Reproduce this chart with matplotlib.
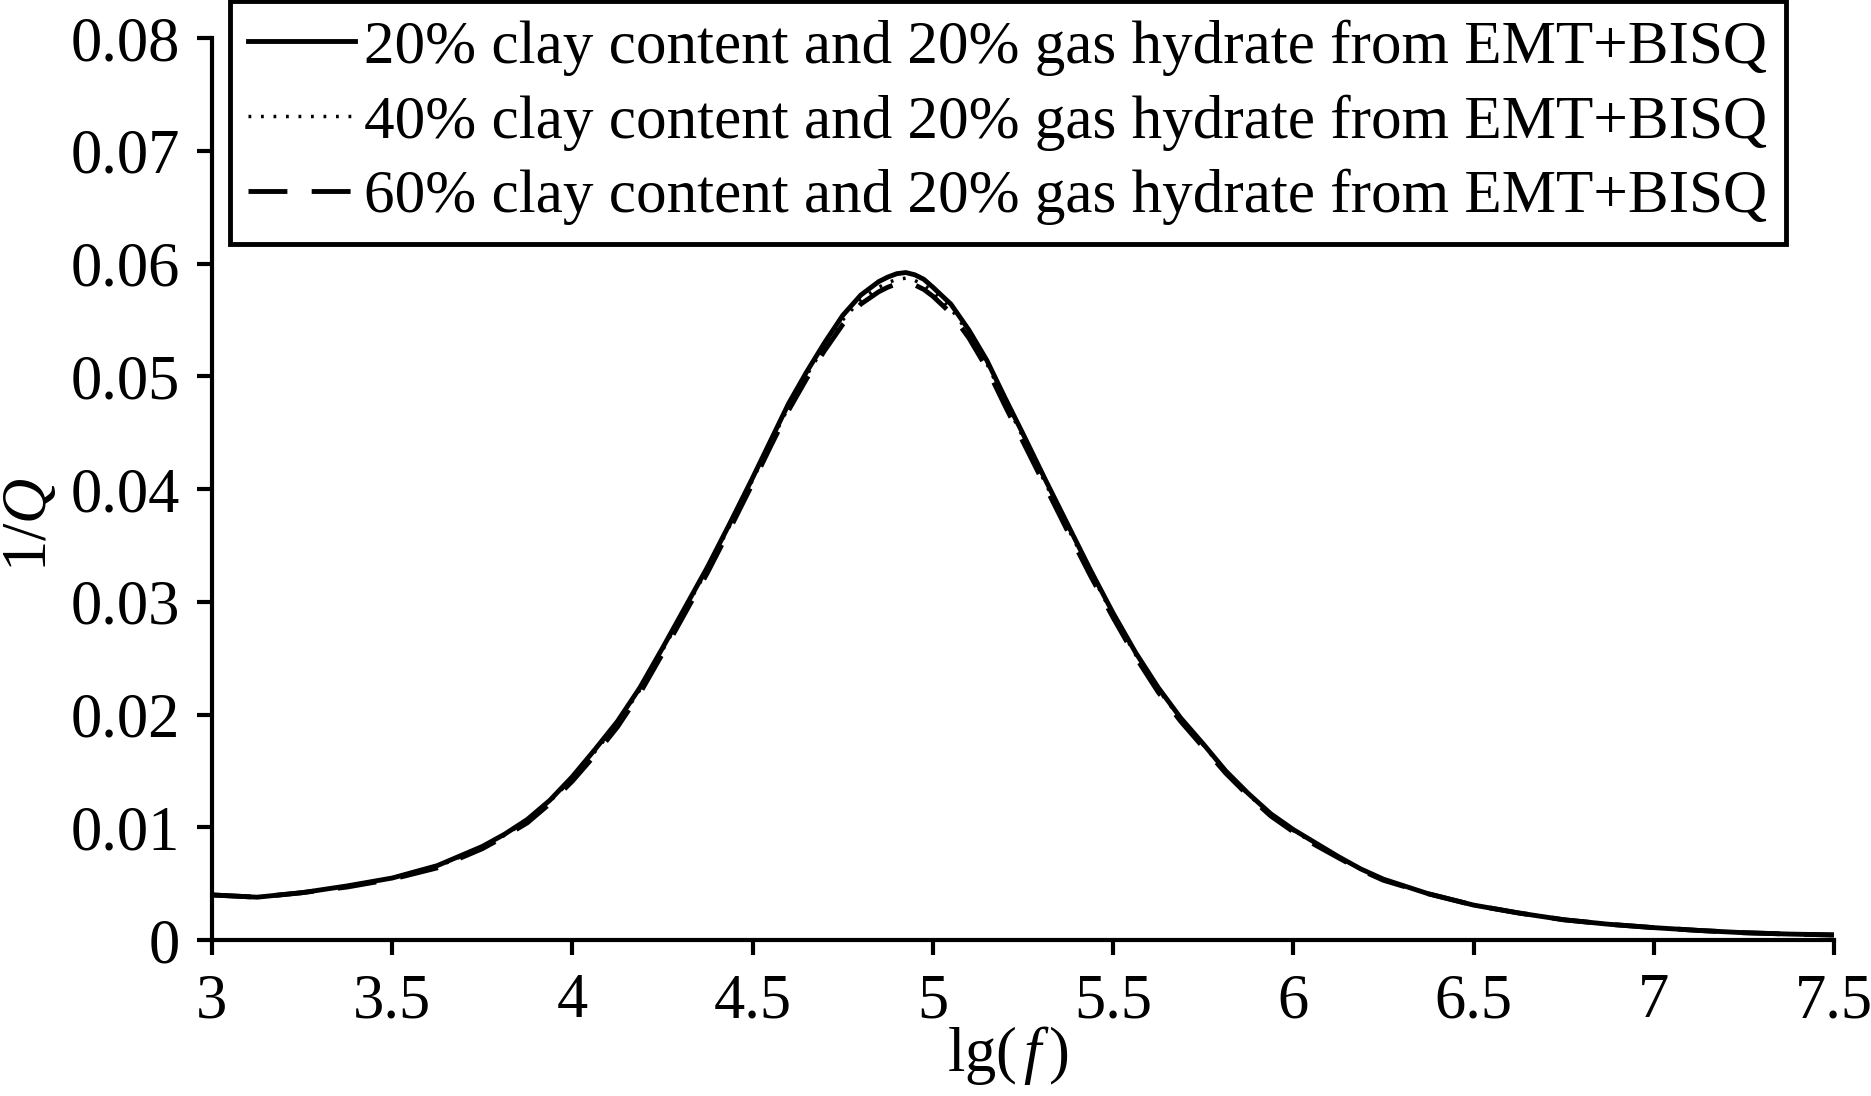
import matplotlib
matplotlib.use('Agg')
import matplotlib.pyplot as plt

plt.rcParams['font.family'] = ['Liberation Serif', 'DejaVu Serif']
plt.rcParams['mathtext.fontset'] = 'custom'
plt.rcParams['mathtext.rm'] = 'Liberation Serif'
plt.rcParams['mathtext.it'] = 'Liberation Serif:italic'

# lg(f) sample points
lgf = [3.0, 3.125, 3.25, 3.375, 3.5, 3.625, 3.75,
       3.8125, 3.875, 3.9375, 4.0, 4.0625, 4.125, 4.1875, 4.25, 4.3125, 4.375, 4.4375, 4.5,
       4.55, 4.6, 4.65, 4.7, 4.75, 4.8, 4.85, 4.875, 4.9, 4.925, 4.95, 4.975, 5.0,
       5.05, 5.1, 5.15, 5.2, 5.25,
       5.3125, 5.375, 5.4375, 5.5, 5.5625, 5.625, 5.6875, 5.75, 5.8125, 5.875, 5.9375,
       6.0, 6.0625, 6.125, 6.1875, 6.25,
       6.375, 6.5, 6.625, 6.75, 6.875, 7.0, 7.125, 7.25, 7.375, 7.5]

# 1/Q for 20% clay
q20 = [0.0040, 0.0038, 0.0042, 0.0048, 0.0055, 0.0066, 0.0083,
       0.0094, 0.0107, 0.0124, 0.0145, 0.0169, 0.0194, 0.0224, 0.0259, 0.0295, 0.0331, 0.0370, 0.0410,
       0.0443, 0.0476, 0.0504, 0.0530, 0.0554, 0.0572, 0.0584, 0.0588, 0.0591, 0.0592, 0.0590, 0.0586, 0.0579,
       0.0564, 0.0541, 0.0514, 0.0481, 0.0449,
       0.0408, 0.0368, 0.0328, 0.0290, 0.0255, 0.0224, 0.0197, 0.0174, 0.0150, 0.0130, 0.0112,
       0.0098, 0.0086, 0.0074, 0.0063, 0.0054,
       0.0041, 0.0031, 0.0024, 0.0018, 0.0014, 0.0011, 0.00085, 0.00065, 0.00053, 0.00045]

# 1/Q for 40% clay
q40 = [0.0040, 0.0038, 0.0042, 0.0048, 0.0055, 0.0065, 0.0082,
       0.0093, 0.0106, 0.0123, 0.0143, 0.0167, 0.0192, 0.0222, 0.0257, 0.0293, 0.0329, 0.0368, 0.0408,
       0.0441, 0.0473, 0.0501, 0.0527, 0.0550, 0.0568, 0.0579, 0.0583, 0.0586, 0.0587, 0.0585, 0.0581, 0.0575,
       0.0560, 0.0538, 0.0511, 0.0478, 0.0446,
       0.0405, 0.0365, 0.0326, 0.0288, 0.0253, 0.0222, 0.0196, 0.0173, 0.0149, 0.0129, 0.0111,
       0.0097, 0.0085, 0.0074, 0.0063, 0.0054,
       0.0041, 0.0031, 0.0024, 0.0018, 0.0014, 0.0011, 0.00085, 0.00065, 0.00053, 0.00045]

# 1/Q for 60% clay
q60 = [0.0040, 0.0038, 0.0042, 0.0047, 0.0054, 0.0064, 0.0081,
       0.0092, 0.0104, 0.0121, 0.0141, 0.0164, 0.0189, 0.0219, 0.0254, 0.0290, 0.0326, 0.0365, 0.0405,
       0.0438, 0.0470, 0.0498, 0.0523, 0.0546, 0.0564, 0.0575, 0.0579, 0.0582, 0.0583, 0.0581, 0.0577, 0.0571,
       0.0556, 0.0534, 0.0507, 0.0474, 0.0442,
       0.0402, 0.0362, 0.0323, 0.0286, 0.0251, 0.0220, 0.0194, 0.0171, 0.0148, 0.0128, 0.0110,
       0.0096, 0.0084, 0.0073, 0.0062, 0.0053,
       0.0041, 0.0031, 0.0024, 0.0018, 0.0014, 0.0011, 0.00085, 0.00065, 0.00053, 0.00045]

labels = ['20% clay content and 20% gas hydrate from EMT+BISQ',
          '40% clay content and 20% gas hydrate from EMT+BISQ',
          '60% clay content and 20% gas hydrate from EMT+BISQ']

xticks = [3, 3.5, 4, 4.5, 5, 5.5, 6, 6.5, 7, 7.5]
xticklabels = ['3', '3.5', '4', '4.5', '5', '5.5', '6', '6.5', '7', '7.5']
yticks = [0, 0.01, 0.02, 0.03, 0.04, 0.05, 0.06, 0.07, 0.08]
yticklabels = ['0', '0.01', '0.02', '0.03', '0.04', '0.05', '0.06', '0.07', '0.08']

fig = plt.figure(figsize=(18.71, 10.96), dpi=100)
ax = fig.add_axes([0.1133, 0.1423, 0.8669, 0.823])

ax.plot(lgf, q20, color='black', lw=3.5, ls='-', label=labels[0])
ax.plot(lgf, q40, color='black', lw=2.5, ls=(0, (0.8, 2.8)), label=labels[1])
ax.plot(lgf, q60, color='black', lw=3.5, ls=(0, (8, 5)), label=labels[2])

ax.set_xlim(3, 7.5)
ax.set_ylim(0, 0.08)
ax.set_xticks(xticks)
ax.set_xticklabels(xticklabels)
ax.set_yticks(yticks)
ax.set_yticklabels(yticklabels)

for s in ['top', 'right']:
    ax.spines[s].set_visible(False)
for s in ['left', 'bottom']:
    ax.spines[s].set_linewidth(3)
ax.tick_params(direction='out', length=11, width=3, labelsize=45)
ax.tick_params(axis='x', pad=13)
ax.tick_params(axis='y', pad=12)

ax.set_xlabel(r'lg($\,\mathit{f}\,$)', fontsize=45)
ax.xaxis.set_label_coords(0.491, -0.093)
ax.set_ylabel(r'1/$\mathit{Q}$', fontsize=45)
ax.yaxis.set_label_coords(-0.094, 0.46)

leg = ax.legend(loc='upper left', bbox_to_anchor=(0.1229, 0.999),
                bbox_transform=fig.transFigure, fontsize=44, frameon=True,
                fancybox=False, framealpha=1, handlelength=1.75, handletextpad=0.15,
                labelspacing=0.3, borderpad=0.3, borderaxespad=0)
leg.get_frame().set_edgecolor('black')
leg.get_frame().set_linewidth(3.5)

fig.savefig('out.png', dpi=100)
